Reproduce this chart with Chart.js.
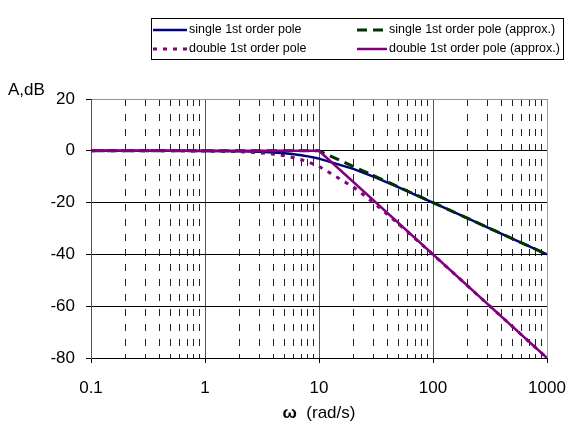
<!DOCTYPE html>
<html>
<head>
<meta charset="utf-8">
<script src="https://cdn.jsdelivr.net/npm/chart.js@4/dist/chart.umd.min.js"></script>
<style>
  body { margin: 0; background: #fff; }
  #wrap { width: 568px; height: 425px; }
</style>
</head>
<body>
<div id="wrap"><canvas id="bode" width="568" height="425"></canvas></div>
<script>
// frequencies (rad/s) where the curves were sampled
const w = [0.1, 0.2, 0.3, 0.4, 0.5, 0.6, 0.7, 0.8, 0.9,
           1, 2, 3, 4, 5, 6, 7, 8, 9,
           10, 20, 30, 40, 50, 60, 70, 80, 90,
           100, 200, 300, 400, 500, 600, 700, 800, 900, 1000];

// gain in dB
const singlePole = [0, 0, 0, -0.01, -0.01, -0.02, -0.02, -0.03, -0.04,
                    -0.04, -0.17, -0.37, -0.65, -0.97, -1.34, -1.73, -2.15, -2.58,
                    -3.01, -6.99, -10.0, -12.3, -14.15, -15.68, -16.99, -18.13, -19.14,
                    -20.04, -26.03, -29.55, -32.04, -33.98, -35.56, -36.9, -38.06, -39.09, -40.0];
const doublePole = [0, 0, -0.01, -0.01, -0.02, -0.03, -0.04, -0.06, -0.07,
                    -0.09, -0.34, -0.75, -1.29, -1.94, -2.67, -3.46, -4.3, -5.15,
                    -6.02, -13.98, -20.0, -24.61, -28.3, -31.36, -33.98, -36.26, -38.29,
                    -40.09, -52.06, -59.09, -64.09, -67.96, -71.13, -73.8, -76.12, -78.17, -80.0];

// straight-line (asymptote) approximations
const approxW = [0.1, 10, 1000];
const singleApprox = [0, 0, -40];
const doubleApprox = [0, 0, -80];

const seriesNames = ['single 1st order pole', 'single 1st order pole (approx.)',
                     'double 1st order pole', 'double 1st order pole (approx.)'];

const decades = [0.1, 1, 10, 100, 1000];
const decadeLabels = ['0.1', '1', '10', '100', '1000'];
const yTicks = [20, 0, -20, -40, -60, -80];

// vertical grid: every 1..9 step inside each decade
let gridW = [];
decades.slice(0, -1).forEach(d => {
    for (let k = 1; k <= 9; k++) gridW.push(Math.round(d * k * 10) / 10);
});
gridW.push(1000);

const isDecade = v => decades.includes(v);
const FONT = 'Liberation Sans, Arial, sans-serif';

function pts(xs, ys) {
    return xs.map((x, i) => ({ x: x, y: ys[i] }));
}

// legend box + axis captions drawn on top
const overlay = {
    id: 'overlay',
    afterDraw(chart) {
        const ctx = chart.ctx;
        ctx.save();
        ctx.strokeStyle = '#000';
        ctx.lineWidth = 1;
        ctx.setLineDash([]);
        ctx.strokeRect(151.5, 18.5, 412, 41);

        const slots = [
            { x0: 153, x1: 187, tx: 189, y: 30 },
            { x0: 357, x1: 387, tx: 389, y: 30 },
            { x0: 153, x1: 187, tx: 189, y: 49 },
            { x0: 357, x1: 387, tx: 389, y: 49 }
        ];
        chart.data.datasets.forEach((ds, i) => {
            const s = slots[i];
            ctx.beginPath();
            ctx.strokeStyle = ds.borderColor;
            ctx.lineWidth = ds.borderWidth;
            ctx.lineCap = 'butt';
            ctx.setLineDash(ds.borderDash || []);
            ctx.moveTo(s.x0, s.y);
            ctx.lineTo(s.x1, s.y);
            ctx.stroke();
            ctx.setLineDash([]);
            ctx.fillStyle = '#000';
            ctx.font = '12.5px ' + FONT;
            ctx.textAlign = 'left';
            ctx.textBaseline = 'middle';
            ctx.fillText(ds.label, s.tx, s.y);
        });

        // y caption
        ctx.font = '17px ' + FONT;
        ctx.textBaseline = 'middle';
        ctx.fillText('A,dB', 8, 90);

        // x caption: bold omega + normal text
        const a = chart.chartArea;
        const cx = (a.left + a.right) / 2;
        ctx.font = 'bold 17px ' + FONT;
        const w1 = ctx.measureText('ω').width;
        ctx.font = '17px ' + FONT;
        const rest = '  (rad/s)';
        const w2 = ctx.measureText(rest).width;
        let x = cx - (w1 + w2) / 2;
        ctx.font = 'bold 17px ' + FONT;
        ctx.fillText('ω', x, 413);
        ctx.font = '17px ' + FONT;
        ctx.fillText(rest, x + w1, 413);
        ctx.restore();
    }
};

new Chart(document.getElementById('bode'), {
    type: 'line',
    data: {
        datasets: [
            { label: seriesNames[0], data: pts(w, singlePole), borderColor: '#000080', borderWidth: 2.5, order: 4 },
            { label: seriesNames[1], data: pts(approxW, singleApprox), borderColor: '#003300', borderWidth: 3, borderDash: [10, 6], order: 3 },
            { label: seriesNames[2], data: pts(w, doublePole), borderColor: '#800080', borderWidth: 3, borderDash: [4, 6], order: 2 },
            { label: seriesNames[3], data: pts(approxW, doubleApprox), borderColor: '#800080', borderWidth: 2.5, order: 1 }
        ]
    },
    options: {
        responsive: false,
        animation: false,
        devicePixelRatio: 1,
        layout: { padding: { left: 0, right: 21, top: 99, bottom: 0 } },
        elements: { point: { radius: 0 }, line: { tension: 0, fill: false, borderCapStyle: 'butt' } },
        plugins: { legend: { display: false }, tooltip: { enabled: false } },
        scales: {
            x: {
                type: 'logarithmic',
                min: 0.1,
                max: 1000,
                afterBuildTicks: s => { s.ticks = gridW.map(v => ({ value: v, major: isDecade(v) })); },
                afterFit: s => { s.height = 67; s.paddingLeft = 0; s.paddingRight = 0; },
                ticks: {
                    autoSkip: false,
                    maxRotation: 0,
                    padding: 15,
                    color: '#000',
                    font: { family: FONT, size: 17 },
                    callback: v => { const i = decades.indexOf(v); return i >= 0 ? decadeLabels[i] : ''; }
                },
                grid: {
                    color: c => {
                        const v = c.tick ? c.tick.value : 0;
                        if (v === 1000) return '#a0a0a0';
                        return isDecade(v) ? '#555' : '#222';
                    },
                    lineWidth: 1,
                    tickLength: 5,
                    tickColor: c => (c.tick && isDecade(c.tick.value)) ? '#000' : 'rgba(0,0,0,0)'
                },
                border: {
                    display: true,
                    color: '#000',
                    dash: c => (c.tick && !isDecade(c.tick.value)) ? [7, 8] : []
                }
            },
            y: {
                min: -80,
                max: 20,
                afterBuildTicks: s => { s.ticks = yTicks.map(v => ({ value: v })); },
                afterFit: s => { s.width = 91; },
                ticks: {
                    padding: 11,
                    color: '#000',
                    font: { family: FONT, size: 17 }
                },
                grid: {
                    color: c => (c.tick && c.tick.value === 20) ? '#909090' : '#000',
                    lineWidth: 1,
                    tickLength: 5,
                    tickColor: '#000'
                },
                border: { display: true, color: '#555' }
            }
        }
    },
    plugins: [overlay]
});
</script>
</body>
</html>
